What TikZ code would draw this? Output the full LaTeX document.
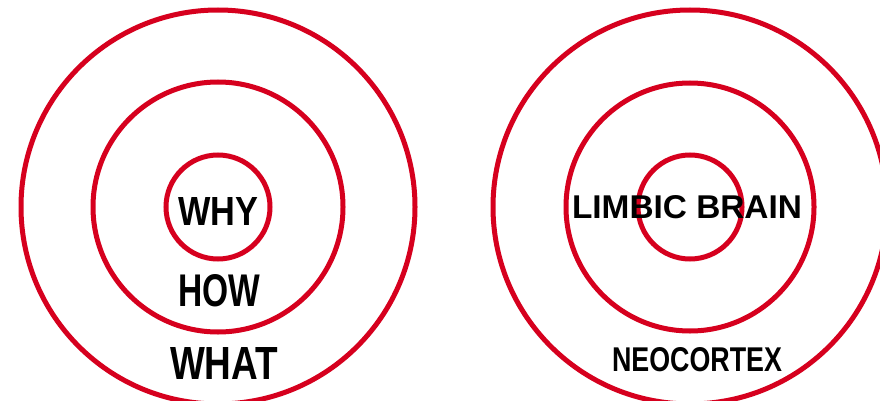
\documentclass[tikz,border=0pt]{standalone}
\usepackage{fontspec}
\usepackage{graphicx}
\setmainfont{Liberation Sans}
\definecolor{ringred}{RGB}{214,0,30}
\newcommand\handtxt[3]{\resizebox{#1}{#2}{\bfseries #3}}
\tikzset{
  ring/.style={draw=ringred, line width=5pt},
  lbl/.style={inner sep=0pt, text=black, font=\fontsize{36}{40}\selectfont}
}
\begin{document}
\begin{tikzpicture}[x=1pt,y=-1pt]
\useasboundingbox (0,0) rectangle (880,401);
\clip (0,0) rectangle (880,401);
\fill[white] (0,0) rectangle (880,401);
% left target
\draw[ring] (218,207) circle[radius=197pt];
\draw[ring] (218,207) circle[radius=125pt];
\draw[ring] (218,207) circle[radius=52pt];
% right target
\draw[ring] (690,207) circle[radius=197pt];
\draw[ring] (690,207) circle[radius=124pt];
\draw[ring] (690,207) circle[radius=52pt];
% labels
\node[lbl] (why) at (218,211) {\handtxt{80pt}{28pt}{WHY}};
\node[lbl] (how) at (219,291) {\handtxt{82pt}{32pt}{HOW}};
\node[lbl] (what) at (224,363) {\handtxt{108pt}{32pt}{WHAT}};
\node[lbl] (limbic) at (687,207) {\handtxt{230pt}{23pt}{LIMBIC BRAIN}};
\node[lbl] (neo) at (697,360) {\handtxt{170pt}{24pt}{NEOCORTEX}};
\end{tikzpicture}
\end{document}
